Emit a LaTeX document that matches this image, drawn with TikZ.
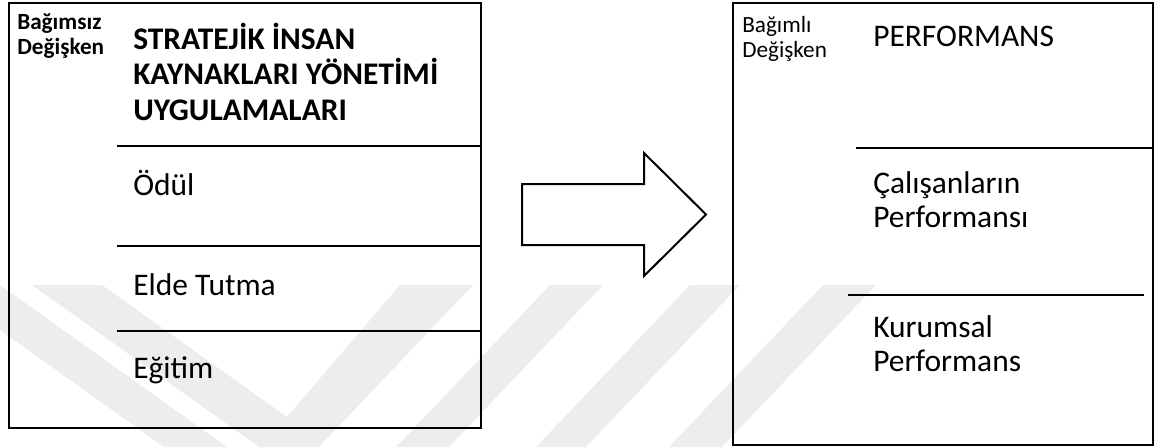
\documentclass[tikz,border=0pt]{standalone}
\usepackage{fontspec}
\setmainfont{Carlito}
\definecolor{wm}{RGB}{237,237,237}
\definecolor{shadowgray}{RGB}{190,190,190}
\tikzset{
  boxline/.style={draw=black, line width=0.95pt},
  sepline/.style={draw=black, line width=1.5pt},
  wmark/.style={fill=wm, draw=none},
  bigtxt/.style={anchor=base west, inner sep=0pt, font=\fontsize{23.6pt}{26pt}\selectfont},
  bigbold/.style={bigtxt, font=\fontsize{23.6pt}{26pt}\selectfont\bfseries},
  smalltxt/.style={anchor=base west, inner sep=0pt, font=\fontsize{17.4pt}{19pt}\selectfont},
  smallbold/.style={smalltxt, font=\fontsize{17.4pt}{19pt}\selectfont\bfseries},
  arrowshape/.style={draw=black, line width=1.5pt, fill=white, line join=miter}
}
\begin{document}
\begin{tikzpicture}[x=0.75pt,y=-0.75pt]
\useasboundingbox (0,0) rectangle (1166,447);
% faint watermark
\begin{scope}
\clip (0,285) rectangle (1166,447);
\fill[wmark] (-63,285) -- (0,285) -- (227,447) -- (164,447) -- cycle;
\fill[wmark] (32,285) -- (102,285) -- (287,417) -- (400,285) -- (473,285) -- (319,447) -- (259,447) -- cycle;
\fill[wmark] (550,285) -- (603,285) -- (449,447) -- (396,447) -- cycle;
\fill[wmark] (690,285) -- (740,285) -- (586,447) -- (536,447) -- cycle;
\fill[wmark] (823,285) -- (876,285) -- (722,447) -- (669,447) -- cycle;
\end{scope}

% left box
\coordinate (L1) at (9,3);
\coordinate (L2) at (481,428);
\draw[boxline] (L1) rectangle (L2);
\coordinate (ls1a) at (117,146); \coordinate (ls1b) at (481,146);
\coordinate (ls2a) at (117,246); \coordinate (ls2b) at (481,246);
\coordinate (ls3a) at (117,331); \coordinate (ls3b) at (481,331);
\coordinate (ls4a) at (117,428); \coordinate (ls4b) at (481,428);
\draw[sepline] (ls1a) -- (ls1b);
\draw[sepline] (ls2a) -- (ls2b);
\draw[sepline] (ls3a) -- (ls3b);
\draw[sepline] (ls4a) -- (ls4b);

\node[smallbold] (bag1) at (17,29) {Bağımsız};
\node[smallbold] (bag2) at (17,54) {Değişken};
\node[bigbold] (t1) at (133,49) {STRATEJİK İNSAN};
\node[bigbold] (t2) at (133,84.5) {KAYNAKLARI YÖNETİMİ};
\node[bigbold] (t3) at (133,120) {UYGULAMALARI};
\node[bigtxt] (odul) at (133,195) {Ödül};
\node[bigtxt] (elde) at (133,295) {Elde Tutma};
\node[bigtxt] (egit) at (133,378) {Eğitim};

% arrow
\coordinate (a1) at (522,184);
\coordinate (a2) at (644,184);
\coordinate (a3) at (644,153);
\coordinate (a4) at (706,214.5);
\coordinate (a5) at (644,276);
\coordinate (a6) at (644,245);
\coordinate (a7) at (522,245);
\draw[arrowshape] (a1) -- (a2) -- (a3) -- (a4) -- (a5) -- (a6) -- (a7) -- cycle;

% right box
\coordinate (R1) at (733,3);
\coordinate (R2) at (1153,445);
\draw[boxline] (R1) rectangle (R2);
\coordinate (rs1a) at (856,148); \coordinate (rs1b) at (1153,148);
\coordinate (rs2a) at (848,295); \coordinate (rs2b) at (1144,295);
\coordinate (rs3a) at (818,445); \coordinate (rs3b) at (1114,445);
\draw[sepline] (rs1a) -- (rs1b);
\draw[sepline] (rs2a) -- (rs2b);
\draw[sepline] (rs3a) -- (rs3b);

\node[smalltxt] (bm1) at (742,32) {Bağımlı};
\node[smalltxt] (bm2) at (742,57) {Değişken};
\node[bigtxt] (perf) at (873,46) {PERFORMANS};
\node[bigtxt] (cal1) at (873,193) {Çalışanların};
\node[bigtxt] (cal2) at (873,227) {Performansı};
\node[bigtxt] (kur1) at (873,337) {Kurumsal};
\node[bigtxt] (kur2) at (873,371) {Performans};
\end{tikzpicture}
\end{document}
